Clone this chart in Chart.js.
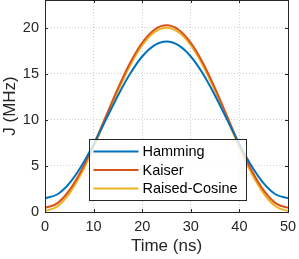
<!DOCTYPE html>
<html>
<head>
<meta charset="utf-8">
<script src="https://cdn.jsdelivr.net/npm/chart.js"></script>
<style>
  body { margin: 0; background: #fff; }
</style>
</head>
<body>
<canvas id="myChart" width="299" height="259"></canvas>
<script>
// ---- data ----
const timeNs = [0, 2.5, 5, 7.5, 10, 12.5, 15, 17.5, 20, 22.5, 25, 27.5, 30, 32.5, 35, 37.5, 40, 42.5, 45, 47.5, 50];
const hamming = [1.48, 1.90, 3.11, 4.99, 7.36, 9.99, 12.62, 14.99, 16.87, 18.08, 18.50, 18.08, 16.87, 14.99, 12.62, 9.99, 7.36, 4.99, 3.11, 1.90, 1.48];
const kaiser = [0.45, 0.93, 2.34, 4.53, 7.29, 10.35, 13.41, 16.17, 18.36, 19.77, 20.25, 19.77, 18.36, 16.17, 13.41, 10.35, 7.29, 4.53, 2.34, 0.93, 0.45];
const raisedCosine = [0.10, 0.59, 2.00, 4.20, 6.98, 10.05, 13.12, 15.90, 18.10, 19.51, 20.00, 19.51, 18.10, 15.90, 13.12, 10.05, 6.98, 4.20, 2.00, 0.59, 0.10];
const seriesNames = ['Hamming', 'Kaiser', 'Raised-Cosine'];
const xTicks = [0, 10, 20, 30, 40, 50];
const yTicks = [0, 5, 10, 15, 20];

const colors = ['#0072BD', '#D95319', '#EDB120'];
const axisColor = '#262626';
const FONT = '"Liberation Sans", Arial, sans-serif';

function pts(vals) {
  return timeNs.map((t, i) => ({ x: t, y: vals[i] }));
}

// box + inward ticks, matlab style
const boxPlugin = {
  id: 'box',
  afterDraw(chart) {
    const { ctx, chartArea: a, scales } = chart;
    ctx.save();
    ctx.strokeStyle = axisColor;
    ctx.lineWidth = 1;
    const tl = 3;
    ctx.beginPath();
    xTicks.forEach(v => {
      const px = Math.round(scales.x.getPixelForValue(v)) + 0.5;
      ctx.moveTo(px, a.bottom); ctx.lineTo(px, a.bottom - tl);
      ctx.moveTo(px, a.top); ctx.lineTo(px, a.top + tl);
    });
    yTicks.forEach(v => {
      const py = Math.round(scales.y.getPixelForValue(v)) + 0.5;
      ctx.moveTo(a.left, py); ctx.lineTo(a.left + tl, py);
      ctx.moveTo(a.right, py); ctx.lineTo(a.right - tl, py);
    });
    ctx.stroke();
    ctx.strokeRect(Math.round(a.left) + 0.5, Math.round(a.top) + 0.5,
      Math.round(a.right - a.left), Math.round(a.bottom - a.top));
    ctx.restore();
  }
};

// legend inside the axes
const legendPlugin = {
  id: 'insideLegend',
  afterDatasetsDraw(chart) {
    const ctx = chart.ctx;
    const bx = 89.5, by = 139.5, bw = 157, bh = 61;
    ctx.save();
    ctx.fillStyle = 'rgba(255,255,255,0.8)';
    ctx.fillRect(bx, by, bw, bh);
    ctx.strokeStyle = axisColor;
    ctx.lineWidth = 1;
    ctx.strokeRect(bx, by, bw, bh);
    ctx.font = '14.5px ' + FONT;
    ctx.textBaseline = 'middle';
    chart.data.datasets.forEach((ds, i) => {
      const ry = 151.5 + i * 18.5;
      ctx.strokeStyle = ds.borderColor;
      ctx.lineWidth = 2;
      ctx.beginPath();
      ctx.moveTo(93.5, ry); ctx.lineTo(138.5, ry);
      ctx.stroke();
      ctx.fillStyle = '#000';
      ctx.fillText(ds.label, 142.5, ry + 0.5);
    });
    ctx.restore();
  }
};

const ctx = document.getElementById('myChart');

new Chart(ctx, {
  type: 'line',
  data: {
    datasets: [hamming, kaiser, raisedCosine].map((vals, i) => ({
      label: seriesNames[i],
      data: pts(vals),
      borderColor: colors[i],
      borderWidth: 2,
      pointRadius: 0,
      cubicInterpolationMode: 'monotone',
      fill: false
    }))
  },
  options: {
    responsive: false,
    animation: false,
    layout: { padding: { top: 0, right: 11, left: 0, bottom: 0 } },
    plugins: {
      legend: { display: false },
      tooltip: { enabled: false }
    },
    scales: {
      x: {
        type: 'linear',
        min: 0,
        max: 50,
        afterBuildTicks: s => { s.ticks = xTicks.map(v => ({ value: v })); },
        afterFit: s => { s.height = 47; s.paddingLeft = 0; s.paddingRight = 0; },
        grid: {
          color: 'rgba(0,0,0,0.18)',
          borderDash: [1, 2],
          drawTicks: false
        },
        border: { display: false, dash: [1, 2] },
        ticks: {
          color: axisColor,
          font: { family: FONT, size: 14.5 },
          padding: 6,
          maxRotation: 0
        },
        title: {
          display: true,
          text: 'Time (ns)',
          color: axisColor,
          font: { family: FONT, size: 17 },
          padding: { top: 0, bottom: 2 }
        }
      },
      y: {
        min: 0,
        max: 23,
        afterBuildTicks: s => { s.ticks = yTicks.map(v => ({ value: v })); },
        afterFit: s => { s.width = 45; s.paddingTop = 0; s.paddingBottom = 0; },
        grid: {
          color: 'rgba(0,0,0,0.18)',
          borderDash: [1, 2],
          drawTicks: false
        },
        border: { display: false, dash: [1, 2] },
        ticks: {
          color: axisColor,
          font: { family: FONT, size: 14.5 },
          padding: 6
        },
        title: {
          display: true,
          text: 'J (MHz)',
          color: axisColor,
          font: { family: FONT, size: 17 },
          padding: { top: 0, bottom: 2 }
        }
      }
    }
  },
  plugins: [boxPlugin, legendPlugin]
});
</script>
</body>
</html>
